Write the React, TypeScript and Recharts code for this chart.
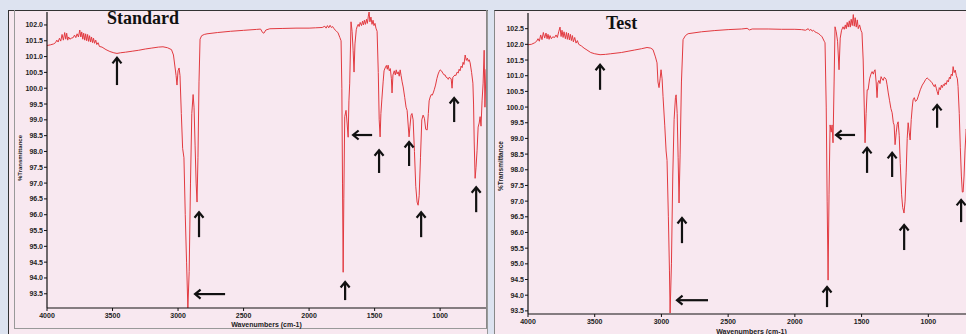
import { LineChart, Line, XAxis, YAxis, ReferenceLine } from "recharts";

/* ---------- colors ---------- */
const PAGE_BG = "#dde3f0";
const PLOT_BG = "#f8e8f0";
const TRACE = "#e23a40";
const INK = "#111";

/* ---------- axes ---------- */
const waveTicks = [4000, 3500, 3000, 2500, 2000, 1500, 1000];
const standardTicks = [
  93.5, 94.0, 94.5, 95.0, 95.5, 96.0, 96.5, 97.0, 97.5, 98.0, 98.5, 99.0,
  99.5, 100.0, 100.5, 101.0, 101.5, 102.0,
];
const testTicks = [
  93.5, 94.0, 94.5, 95.0, 95.5, 96.0, 96.5, 97.0, 97.5, 98.0, 98.5, 99.0,
  99.5, 100.0, 100.5, 101.0, 101.5, 102.0, 102.5,
];

/* ---------- spectra: [wavenumber, %T] ---------- */
const standardSpectrum: [number, number][] = [
  [4000, 101.35], [3975, 101.37], [3950, 101.4], [3935, 101.44], [3925, 101.52], [3915, 101.46],
  [3905, 101.58], [3895, 101.49], [3885, 101.7], [3875, 101.52], [3865, 101.76], [3857, 101.55],
  [3850, 101.74], [3842, 101.52], [3835, 101.62], [3825, 101.55], [3815, 101.58], [3800, 101.6],
  [3790, 101.68], [3780, 101.6], [3770, 101.72], [3760, 101.62], [3750, 101.84], [3742, 101.62],
  [3735, 101.78], [3727, 101.55], [3720, 101.74], [3712, 101.52], [3705, 101.72], [3697, 101.5],
  [3690, 101.7], [3682, 101.48], [3675, 101.66], [3667, 101.46], [3660, 101.62], [3652, 101.44],
  [3645, 101.58], [3637, 101.42], [3628, 101.52], [3620, 101.38], [3610, 101.44], [3600, 101.32],
  [3580, 101.3], [3550, 101.22], [3520, 101.16], [3490, 101.12], [3466, 101.1], [3440, 101.12],
  [3400, 101.14], [3350, 101.17], [3300, 101.2], [3250, 101.24], [3200, 101.27], [3150, 101.3],
  [3115, 101.31], [3080, 101.28], [3050, 101.22], [3035, 101.05], [3015, 100.4], [3008, 100.1],
  [3000, 100.55], [2992, 100.64], [2985, 100.4], [2975, 99.2], [2965, 98.1], [2955, 97.8],
  [2945, 96.0], [2935, 94.5], [2925, 93.05], [2915, 94.2], [2905, 97.0], [2895, 99.2],
  [2885, 99.8], [2878, 99.4], [2870, 98.2], [2862, 97.0], [2855, 96.4], [2848, 97.8],
  [2840, 100.2], [2832, 101.55], [2820, 101.66], [2800, 101.7], [2779, 101.72], [2700, 101.76],
  [2600, 101.8], [2500, 101.83], [2400, 101.86], [2370, 101.87], [2355, 101.76], [2345, 101.74],
  [2330, 101.84], [2300, 101.88], [2200, 101.89], [2100, 101.9], [2000, 101.9], [1950, 101.91],
  [1900, 101.92], [1880, 101.96], [1870, 101.9], [1860, 101.98], [1850, 101.91], [1840, 101.99],
  [1830, 101.92], [1820, 101.95], [1810, 101.88], [1795, 101.82], [1779, 101.75], [1765, 101.6],
  [1756, 101.5], [1750, 100.0], [1745, 97.0], [1740, 94.18], [1735, 96.5], [1728, 99.1],
  [1718, 99.3], [1710, 98.9], [1702, 98.45], [1696, 99.6], [1690, 100.16], [1680, 102.1],
  [1672, 101.8], [1664, 101.2], [1657, 100.51], [1650, 101.4], [1640, 101.85], [1634, 101.94],
  [1625, 102.02], [1618, 101.95], [1610, 102.08], [1600, 101.98], [1592, 102.12], [1585, 102.0],
  [1578, 102.15], [1570, 102.02], [1562, 102.18], [1555, 102.05], [1548, 102.28], [1542, 102.41],
  [1536, 102.1], [1528, 102.25], [1520, 102.02], [1512, 102.15], [1505, 101.98], [1497, 102.05],
  [1490, 101.9], [1481, 101.8], [1472, 100.5], [1465, 99.0], [1458, 98.46], [1452, 99.2],
  [1445, 99.63], [1435, 100.2], [1428, 100.55], [1420, 100.64], [1410, 100.72], [1403, 100.6],
  [1397, 100.73], [1388, 100.55], [1380, 100.62], [1372, 100.3], [1367, 99.85], [1360, 100.42],
  [1350, 100.55], [1342, 100.42], [1335, 100.58], [1328, 100.45], [1320, 100.52], [1312, 100.38],
  [1305, 100.58], [1298, 100.4], [1290, 100.2], [1282, 100.04], [1270, 99.7], [1260, 99.4],
  [1252, 99.3], [1245, 98.9], [1237, 98.46], [1230, 98.8], [1222, 99.15], [1215, 99.2],
  [1206, 99.0], [1196, 98.0], [1186, 96.9], [1176, 96.4], [1168, 96.3], [1160, 96.6],
  [1150, 97.8], [1140, 99.0], [1130, 99.15], [1120, 99.05], [1110, 98.7], [1099, 98.68],
  [1090, 99.2], [1084, 99.6], [1076, 99.72], [1068, 99.8], [1060, 99.78], [1053, 99.85],
  [1045, 99.95], [1035, 100.1], [1025, 100.3], [1015, 100.45], [1008, 100.52], [1000, 100.58],
  [990, 100.55], [980, 100.48], [970, 100.42], [962, 100.42], [955, 100.35], [945, 100.33],
  [938, 100.28], [930, 100.35], [924, 100.32], [916, 100.3], [909, 100.0], [903, 100.35],
  [895, 100.38], [887, 100.42], [880, 100.4], [870, 100.51], [862, 100.48], [855, 100.6],
  [848, 100.55], [840, 100.7], [832, 100.65], [825, 100.82], [818, 100.75], [809, 101.05],
  [800, 100.88], [792, 100.95], [785, 100.85], [778, 100.9], [771, 100.8], [760, 100.5],
  [750, 100.16], [745, 99.5], [740, 98.3], [733, 97.15], [726, 97.5], [718, 98.04],
  [710, 98.77], [702, 98.9], [695, 99.1], [688, 98.8], [680, 99.6], [672, 100.16],
  [664, 101.2], [658, 99.4], [650, 100.6],
];

const testSpectrum: [number, number][] = [
  [4000, 101.99], [3975, 102.0], [3950, 102.05], [3935, 102.1], [3925, 102.18], [3915, 102.1],
  [3905, 102.3], [3895, 102.15], [3885, 102.38], [3875, 102.2], [3865, 102.36], [3857, 102.18],
  [3850, 102.32], [3842, 102.16], [3835, 102.28], [3825, 102.18], [3815, 102.24], [3800, 102.22],
  [3790, 102.3], [3780, 102.22], [3770, 102.4], [3760, 102.55], [3752, 102.25], [3745, 102.45],
  [3737, 102.22], [3730, 102.4], [3720, 102.18], [3712, 102.38], [3705, 102.16], [3697, 102.36],
  [3690, 102.14], [3682, 102.32], [3675, 102.12], [3667, 102.28], [3660, 102.08], [3650, 102.22],
  [3640, 102.04], [3630, 102.12], [3620, 102.0], [3600, 101.95], [3580, 101.88], [3558, 101.82],
  [3530, 101.74], [3500, 101.7], [3460, 101.67], [3420, 101.68], [3380, 101.7], [3300, 101.74],
  [3250, 101.78], [3200, 101.82], [3150, 101.86], [3108, 101.9], [3080, 101.88], [3063, 101.83],
  [3045, 101.6], [3033, 101.41], [3026, 100.8], [3018, 100.62], [3010, 100.9], [3003, 101.19],
  [2995, 100.9], [2988, 100.33], [2975, 99.4], [2965, 98.6], [2958, 98.3], [2948, 96.5],
  [2940, 94.8], [2935, 93.43], [2925, 95.0], [2915, 97.8], [2905, 99.6], [2895, 100.3],
  [2890, 100.39], [2882, 99.8], [2875, 98.4], [2868, 96.94], [2860, 98.5], [2850, 100.8],
  [2838, 102.15], [2820, 102.28], [2800, 102.34], [2700, 102.4], [2600, 102.44], [2500, 102.47],
  [2400, 102.49], [2358, 102.51], [2340, 102.46], [2320, 102.49], [2200, 102.49], [2100, 102.48],
  [2000, 102.48], [1950, 102.47], [1920, 102.45], [1900, 102.5], [1890, 102.44], [1880, 102.48],
  [1870, 102.42], [1860, 102.45], [1850, 102.4], [1840, 102.38], [1825, 102.35], [1810, 102.3],
  [1796, 102.24], [1780, 102.1], [1774, 102.05], [1765, 100.0], [1758, 97.0], [1751, 94.48],
  [1744, 97.2], [1736, 99.43], [1728, 99.2], [1721, 99.43], [1714, 98.86], [1706, 100.8],
  [1699, 102.56], [1690, 102.4], [1680, 102.1], [1669, 101.19], [1660, 102.2], [1650, 102.45],
  [1639, 102.56], [1630, 102.48], [1622, 102.62], [1615, 102.5], [1608, 102.7], [1600, 102.55],
  [1592, 102.75], [1585, 102.55], [1578, 102.8], [1570, 102.6], [1562, 102.95], [1555, 102.58],
  [1548, 102.85], [1540, 102.55], [1532, 102.78], [1525, 102.5], [1515, 102.62], [1505, 102.45],
  [1497, 102.37], [1488, 101.5], [1480, 100.0], [1474, 98.86], [1466, 99.8], [1458, 100.55],
  [1451, 100.55], [1440, 100.9], [1430, 101.05], [1421, 101.13], [1412, 101.05], [1405, 101.15],
  [1399, 101.19], [1391, 100.8], [1384, 100.3], [1378, 100.77], [1370, 100.85], [1362, 100.75],
  [1354, 100.97], [1346, 100.9], [1338, 100.85], [1330, 100.95], [1324, 100.93], [1316, 100.88],
  [1309, 100.71], [1300, 100.45], [1290, 100.2], [1280, 99.95], [1271, 99.82], [1262, 99.5],
  [1256, 99.43], [1249, 98.8], [1240, 99.2], [1233, 99.45], [1226, 99.53], [1218, 99.1],
  [1210, 98.2], [1200, 97.2], [1192, 96.8], [1182, 96.62], [1174, 97.0], [1166, 97.9],
  [1158, 99.0], [1151, 99.5], [1143, 99.2], [1136, 98.95], [1128, 99.6], [1120, 100.0],
  [1114, 100.23], [1105, 100.3], [1096, 100.18], [1084, 100.23], [1075, 100.35], [1060, 100.55],
  [1045, 100.7], [1030, 100.8], [1020, 100.88], [1009, 100.93], [1000, 100.9], [990, 100.85],
  [980, 100.82], [971, 100.77], [963, 100.7], [955, 100.65], [948, 100.72], [940, 100.6],
  [934, 100.5], [926, 100.39], [918, 100.62], [910, 100.55], [902, 100.7], [895, 100.62],
  [887, 100.72], [880, 100.68], [874, 100.77], [866, 100.72], [858, 100.85], [850, 100.8],
  [842, 100.95], [835, 100.9], [828, 101.05], [820, 101.0], [814, 101.29], [806, 101.1],
  [798, 101.18], [790, 101.0], [782, 100.9], [777, 100.65], [768, 99.8], [760, 98.7],
  [752, 97.8], [745, 97.29], [739, 97.29], [732, 97.8], [725, 98.6], [716, 99.3],
  [708, 99.1], [700, 99.6], [690, 100.2], [680, 99.8], [670, 100.5], [660, 100.3],
  [650, 100.6],
];

/* ---------- peak arrows: head (w, t) -> tail (tw, tt) ---------- */
type Arrow = { w: number; t: number; tw: number; tt: number };

const standardArrows: Arrow[] = [
  { w: 3466, t: 100.96, tw: 3466, tt: 100.1 },
  { w: 2840, t: 96.08, tw: 2840, tt: 95.29 },
  { w: 2870, t: 93.49, tw: 2641, tt: 93.49 },
  { w: 1664, t: 98.52, tw: 1519, tt: 98.52 },
  { w: 1466, t: 98.04, tw: 1466, tt: 97.32 },
  { w: 1237, t: 98.3, tw: 1237, tt: 97.54 },
  { w: 1725, t: 93.87, tw: 1725, tt: 93.3 },
  { w: 1145, t: 96.08, tw: 1145, tt: 95.29 },
  { w: 893, t: 99.69, tw: 893, tt: 98.93 },
  { w: 725, t: 96.87, tw: 725, tt: 96.08 },
];

const testArrows: Arrow[] = [
  { w: 3460, t: 101.35, tw: 3460, tt: 100.55 },
  { w: 2846, t: 96.46, tw: 2846, tt: 95.66 },
  { w: 2883, t: 93.84, tw: 2651, tt: 93.84 },
  { w: 1691, t: 99.11, tw: 1549, tt: 99.11 },
  { w: 1459, t: 98.7, tw: 1459, tt: 97.9 },
  { w: 1271, t: 98.54, tw: 1271, tt: 97.77 },
  { w: 1759, t: 94.26, tw: 1759, tt: 93.62 },
  { w: 1181, t: 96.24, tw: 1181, tt: 95.44 },
  { w: 934, t: 100.07, tw: 934, tt: 99.34 },
  { w: 754, t: 97.04, tw: 754, tt: 96.33 },
];

const tickStyle = {
  fontSize: 7,
  fontWeight: 700,
  fill: "#222",
  fontFamily: "'Liberation Sans', Arial, sans-serif",
};

// draws a thick black arrow; (x1,y1) is the tip
function ArrowShape(props: any) {
  const { x1, y1, x2, y2 } = props;
  if (![x1, y1, x2, y2].every((v) => Number.isFinite(v))) return null;
  const dx = x1 - x2;
  const dy = y1 - y2;
  const len = Math.hypot(dx, dy) || 1;
  const ux = dx / len;
  const uy = dy / len;
  const h = 5.5;
  const w = 4.5;
  const bx = x1 - ux * h;
  const by = y1 - uy * h;
  const px = -uy;
  const py = ux;
  return (
    <g>
      <line x1={x2} y1={y2} x2={x1 - ux} y2={y1 - uy} stroke={INK} strokeWidth={2.2} />
      <polyline
        points={`${bx + px * w},${by + py * w} ${x1},${y1} ${bx - px * w},${by - py * w}`}
        fill="none"
        stroke={INK}
        strokeWidth={2.2}
        strokeLinejoin="miter"
      />
    </g>
  );
}

function Spectrum({
  spectrum,
  arrows,
  yTicks,
  yDomain,
  width,
  height,
  margin,
  xAxisHeight,
  labelOffset,
}: {
  spectrum: [number, number][];
  arrows: Arrow[];
  yTicks: number[];
  yDomain: [number, number];
  width: number;
  height: number;
  margin: { top: number; right: number; bottom: number; left: number };
  xAxisHeight: number;
  labelOffset: number;
}) {
  const data = spectrum.map(([w, t]) => ({ w, t }));
  return (
    <LineChart width={width} height={height} data={data} margin={margin}>
      <XAxis
        dataKey="w"
        type="number"
        domain={[650, 4000]}
        reversed
        allowDataOverflow
        ticks={waveTicks}
        interval={0}
        height={xAxisHeight}
        tickSize={3}
        tickMargin={2}
        tick={tickStyle}
        axisLine={{ stroke: INK, strokeWidth: 1.2 }}
        tickLine={{ stroke: INK }}
        label={{
          value: "Wavenumbers (cm-1)",
          position: "insideBottom",
          offset: labelOffset,
          fontSize: 7,
          fontWeight: 700,
          fill: "#222",
          fontFamily: "'Liberation Sans', Arial, sans-serif",
        }}
      />
      <YAxis
        type="number"
        domain={yDomain}
        allowDataOverflow
        ticks={yTicks}
        interval={0}
        width={40}
        tickSize={3}
        tickMargin={1}
        tick={tickStyle}
        tickFormatter={(v: number) => v.toFixed(1)}
        axisLine={{ stroke: INK, strokeWidth: 1.2 }}
        tickLine={{ stroke: INK }}
      />
      <Line
        type="linear"
        dataKey="t"
        stroke={TRACE}
        strokeWidth={1}
        dot={false}
        isAnimationActive={false}
      />
      {arrows.map((a, i) => (
        <ReferenceLine
          key={i}
          segment={[
            { x: a.w, y: a.t },
            { x: a.tw, y: a.tt },
          ]}
          ifOverflow="visible"
          shape={ArrowShape}
        />
      ))}
    </LineChart>
  );
}

const abs = (s: React.CSSProperties): React.CSSProperties => ({
  position: "absolute",
  boxSizing: "border-box",
  ...s,
});

const yLabelStyle: React.CSSProperties = {
  position: "absolute",
  transform: "translate(-50%, -50%) rotate(-90deg)",
  whiteSpace: "nowrap",
  fontFamily: "'Liberation Sans', Arial, sans-serif",
  fontWeight: 700,
  color: "#222",
  lineHeight: 1,
};

const titleStyle: React.CSSProperties = {
  position: "absolute",
  fontFamily: "'Liberation Serif', 'Times New Roman', serif",
  fontWeight: 700,
  fontSize: 18,
  lineHeight: 1,
  color: "#111",
  whiteSpace: "nowrap",
};

export default function App() {
  return (
    <div
      style={{
        position: "absolute",
        left: 0,
        top: 0,
        width: 966,
        height: 334,
        overflow: "hidden",
        background: PAGE_BG,
      }}
    >
      {/* left panel frame */}
      <div
        style={abs({
          left: 8,
          top: 10,
          width: 480,
          height: 330,
          background: PLOT_BG,
          borderTop: "1px solid #333",
          borderLeft: "1px solid #333",
          borderRight: "1px solid #999",
        })}
      />
      <div
        style={abs({
          left: 14,
          top: 10,
          width: 473,
          height: 319,
          borderLeft: "1px solid #999",
          borderRight: "1px solid #888",
          borderBottom: "1px solid #999",
        })}
      />
      {/* right panel frame */}
      <div
        style={abs({
          left: 494,
          top: 10,
          width: 480,
          height: 330,
          background: PLOT_BG,
          borderTop: "1px solid #333",
          borderLeft: "1px solid #888",
        })}
      />

      <div style={abs({ left: 0, top: 0 })}>
        <Spectrum
          spectrum={standardSpectrum}
          arrows={standardArrows}
          yTicks={standardTicks}
          yDomain={[93.05, 102.41]}
          width={490}
          height={334}
          margin={{ top: 12, right: 4, bottom: 0, left: 7 }}
          xAxisHeight={26}
          labelOffset={7}
        />
      </div>
      <div style={abs({ left: 480, top: 0 })}>
        <Spectrum
          spectrum={testSpectrum}
          arrows={testArrows}
          yTicks={testTicks}
          yDomain={[93.4, 103.0]}
          width={500}
          height={334}
          margin={{ top: 13, right: 5, bottom: 0, left: 8 }}
          xAxisHeight={20}
          labelOffset={0}
        />
      </div>

      <div style={{ ...titleStyle, left: 107, top: 9 }}>Standard</div>
      <div style={{ ...titleStyle, left: 606, top: 14 }}>Test</div>

      <div style={{ ...yLabelStyle, left: 20, top: 158, fontSize: 6 }}>%Transmittance</div>
      <div style={{ ...yLabelStyle, left: 501, top: 166, fontSize: 6.5 }}>%Transmittance</div>
    </div>
  );
}
